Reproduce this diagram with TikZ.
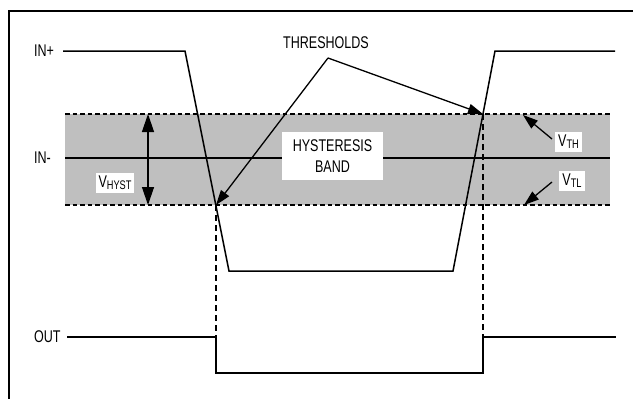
\documentclass[tikz,border=0pt]{standalone}
\usepackage{fontspec}
\setmainfont{Liberation Sans}[FakeStretch=0.74]
\usepackage{tikz}
\usetikzlibrary{positioning}
\usetikzlibrary{arrows.meta}

\newcommand{\lowsub}[1]{\raisebox{-1.8bp}{\fontsize{12.5}{14}\selectfont #1}}

\tikzset{
  frameline/.style={black, line width=2.5bp},
  sig/.style={black, line width=1.5bp},
  level/.style={black, line width=1.4bp, dash pattern=on 4.5bp off 3bp},
  markline/.style={black, line width=1.4bp, dash pattern=on 6bp off 4bp},
  pointer/.style={black, line width=1.3bp, -{Triangle[length=15bp,width=10bp]}},
  lbl/.style={font=\fontsize{17}{21}\selectfont, inner sep=1bp},
  tag/.style={lbl, fill=white, inner sep=3bp}
}

\begin{document}
\begin{tikzpicture}[x=1bp, y=-1bp]
\useasboundingbox (0,0) rectangle (633,399);

% frame
\draw [frameline] (633,11) -- (9,11) -- (9,399);

% hysteresis band
\fill [black!25] (65,114) rectangle (610,205);
\draw [level] (65,114) -- (610,114);
\draw [level] (65,205) -- (610,205);
\draw [sig] (65,158) -- (610,158);

% input waveform
\coordinate(A) at (63, 51);
\coordinate(B) at (185, 51);
\coordinate(C) at (229, 271);
\coordinate(D) at (453, 271);
\coordinate(E) at (495, 51);
\coordinate(F) at (615, 51);

\draw [sig] (A) -- (B) -- (C) -- (D) -- (E) -- (F);

% threshold crossings
\coordinate(P) at (216, 205);
\coordinate(Q) at (483, 114);
\coordinate(P1) at (216, 337);
\coordinate(Q1) at (483, 337);

\draw [markline] (P) -- (P1);
\draw [markline] (Q) -- (Q1);

% output waveform
\coordinate(G) at (67, 337);
\coordinate(H) at (216, 373);
\coordinate(I) at (483, 373);
\coordinate(J) at (616, 337);

\draw [sig] (G) -- (P1) -- (H) -- (I) -- (Q1) -- (J);

% labels
\node[lbl, anchor=west] (inp) at (33,51) {IN+};
\node[lbl, anchor=west] (inm) at (33,158) {IN-};
\node[lbl, anchor=west] (out) at (33,337) {OUT};
\node[lbl] (thr) at (326,43) {THRESHOLDS};

\coordinate(K) at (328, 58);
\draw [pointer] (K) -- (P);
\draw [pointer] (K) -- (Q);

\node[tag, minimum width=101bp, minimum height=48bp, align=center] (band) at (332.5,156) {HYSTERESIS\\BAND};

% hysteresis width
\coordinate(M) at (148, 114);
\coordinate(N) at (148, 205);
\draw [black, line width=1.3bp, {Triangle[length=18bp,width=12bp]}-{Triangle[length=18bp,width=12bp]}] (M) -- (N);
\node[tag] (vhyst) at (115,183) {V\lowsub{HYST}};

% threshold levels
\node[tag] (vth) at (568.5,142) {V\lowsub{TH}};
\node[tag] (vtl) at (572,181) {V\lowsub{TL}};

\coordinate(R) at (552, 139);
\coordinate(S) at (523, 115);
\coordinate(T) at (552, 182);
\coordinate(U) at (524, 205);
\draw [pointer] (R) -- (S);
\draw [pointer] (T) -- (U);

\end{tikzpicture}
\end{document}
